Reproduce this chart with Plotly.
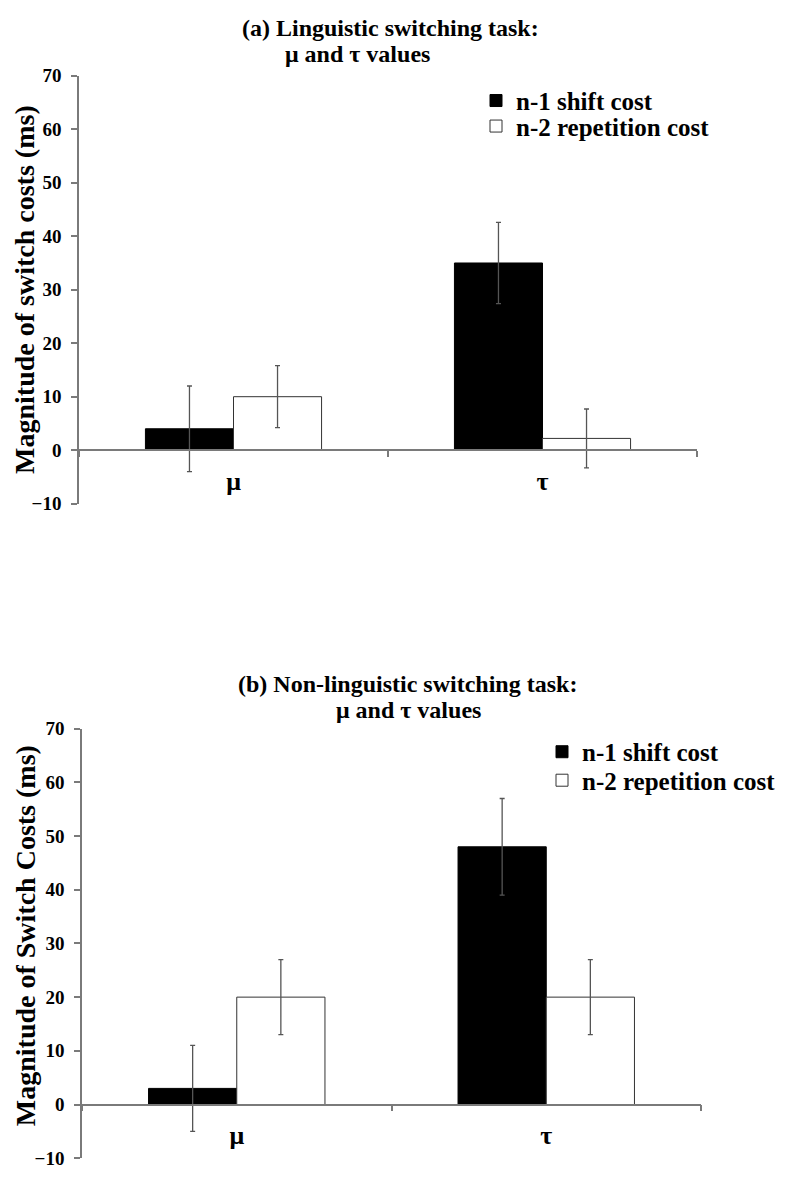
import plotly.graph_objects as go

# Category labels (distribution parameters)
params = ["μ", "τ"]
series_names = ["n-1 shift cost", "n-2 repetition cost"]

# (a) Linguistic switching task
ling_shift = [4, 35]
ling_shift_err = [8, 7.6]
ling_rep = [10, 2.2]
ling_rep_err = [5.8, 5.5]

# (b) Non-linguistic switching task
nonling_shift = [3, 48]
nonling_shift_err = [8, 9]
nonling_rep = [20, 20]
nonling_rep_err = [7, 7]

y_ticks = [-10, 0, 10, 20, 30, 40, 50, 60, 70]

W, H = 795, 1180
FONT = "Liberation Serif"
AXIS_GREY = "#7a7a7a"
ERR_GREY = "#555555"

# panel geometry in paper coordinates
dom_a_x = [79 / W, 697 / W]
dom_a_y = [1 - 502.6 / H, 1 - 67 / H]
dom_b_x = [82 / W, 701 / W]
dom_b_y = [1 - 1169 / H, 1 - 731.7 / H]
y_range = [-10, 70]


def zero_position(dom):
    return dom[0] + (0 - y_range[0]) / (y_range[1] - y_range[0]) * (dom[1] - dom[0])


fig = go.Figure()


def add_pair(shift, shift_err, rep, rep_err, xa, ya, legends):
    fig.add_trace(go.Bar(
        x=params, y=shift, name=series_names[0], xaxis=xa, yaxis=ya, legend=legends[0],
        marker=dict(color="black", line=dict(color="black", width=1)),
        error_y=dict(type="data", array=shift_err, color=ERR_GREY, thickness=1.3, width=2.5),
    ))
    fig.add_trace(go.Bar(
        x=params, y=rep, name=series_names[1], xaxis=xa, yaxis=ya, legend=legends[1],
        marker=dict(color="white", line=dict(color="#333333", width=1)),
        error_y=dict(type="data", array=rep_err, color=ERR_GREY, thickness=1.3, width=2.5),
    ))


add_pair(ling_shift, ling_shift_err, ling_rep, ling_rep_err, "x", "y", ["legend", "legend2"])
add_pair(nonling_shift, nonling_shift_err, nonling_rep, nonling_rep_err, "x2", "y2",
         ["legend3", "legend4"])

xaxis_common = dict(
    type="category", showline=True, linecolor=AXIS_GREY, linewidth=1.5,
    ticks="outside", tickson="boundaries", ticklen=6, tickcolor=AXIS_GREY, tickwidth=1.5,
    showgrid=False, zeroline=False, anchor="free", ticklabelstandoff=8,
    tickfont=dict(family=FONT, size=26, color="black", weight="bold"),
)
yaxis_common = dict(
    range=y_range, tickvals=y_ticks, showline=True, linecolor=AXIS_GREY, linewidth=1.5,
    ticks="outside", ticklen=6, tickcolor=AXIS_GREY, tickwidth=1.5,
    showgrid=False, zeroline=False, ticklabelstandoff=6,
    tickfont=dict(family=FONT, size=19, color="black", weight="bold"),
)

legend_common = dict(
    xanchor="left", yanchor="top", bgcolor="rgba(0,0,0,0)", tracegroupgap=0,
    font=dict(family=FONT, size=25, color="black", weight="bold"),
)

fig.update_layout(
    width=W, height=H, margin=dict(l=0, r=0, t=0, b=0),
    paper_bgcolor="white", plot_bgcolor="white",
    barmode="group", bargap=0.43, bargroupgap=0,
    xaxis=dict(domain=dom_a_x, position=zero_position(dom_a_y), **xaxis_common),
    yaxis=dict(domain=dom_a_y, anchor="x", **yaxis_common),
    xaxis2=dict(domain=dom_b_x, position=zero_position(dom_b_y), **xaxis_common),
    yaxis2=dict(domain=dom_b_y, anchor="x2", **yaxis_common),
    legend=dict(x=476 / W, y=1 - 69 / H, **legend_common),
    legend2=dict(x=476 / W, y=1 - 95 / H, **legend_common),
    legend3=dict(x=542 / W, y=1 - 732 / H, **legend_common),
    legend4=dict(x=542 / W, y=1 - 761 / H, **legend_common),
    showlegend=True,
)

title_font = dict(family=FONT, size=24, color="black", weight="bold")
ytitle_font = dict(family=FONT, size=28, color="black", weight="bold")

annotations = [
    dict(text="(a) Linguistic switching task:", x=390 / W, y=1 - 18.5 / H, font=title_font),
    dict(text="μ and τ values", x=357 / W, y=1 - 44.5 / H, font=title_font),
    dict(text="(b) Non-linguistic switching task:", x=407 / W, y=1 - 686.5 / H, font=title_font),
    dict(text="μ and τ values", x=408 / W, y=1 - 712.5 / H, font=title_font),
    dict(text="Magnitude of switch costs (ms)", x=25 / W, y=1 - 285 / H, textangle=-90, font=ytitle_font),
    dict(text="Magnitude of Switch Costs (ms)", x=25 / W, y=1 - 943 / H, textangle=-90, font=ytitle_font),
]
for a in annotations:
    fig.add_annotation(xref="paper", yref="paper", xanchor="center", yanchor="middle",
                       showarrow=False, **a)

fig.write_html("out.html")
